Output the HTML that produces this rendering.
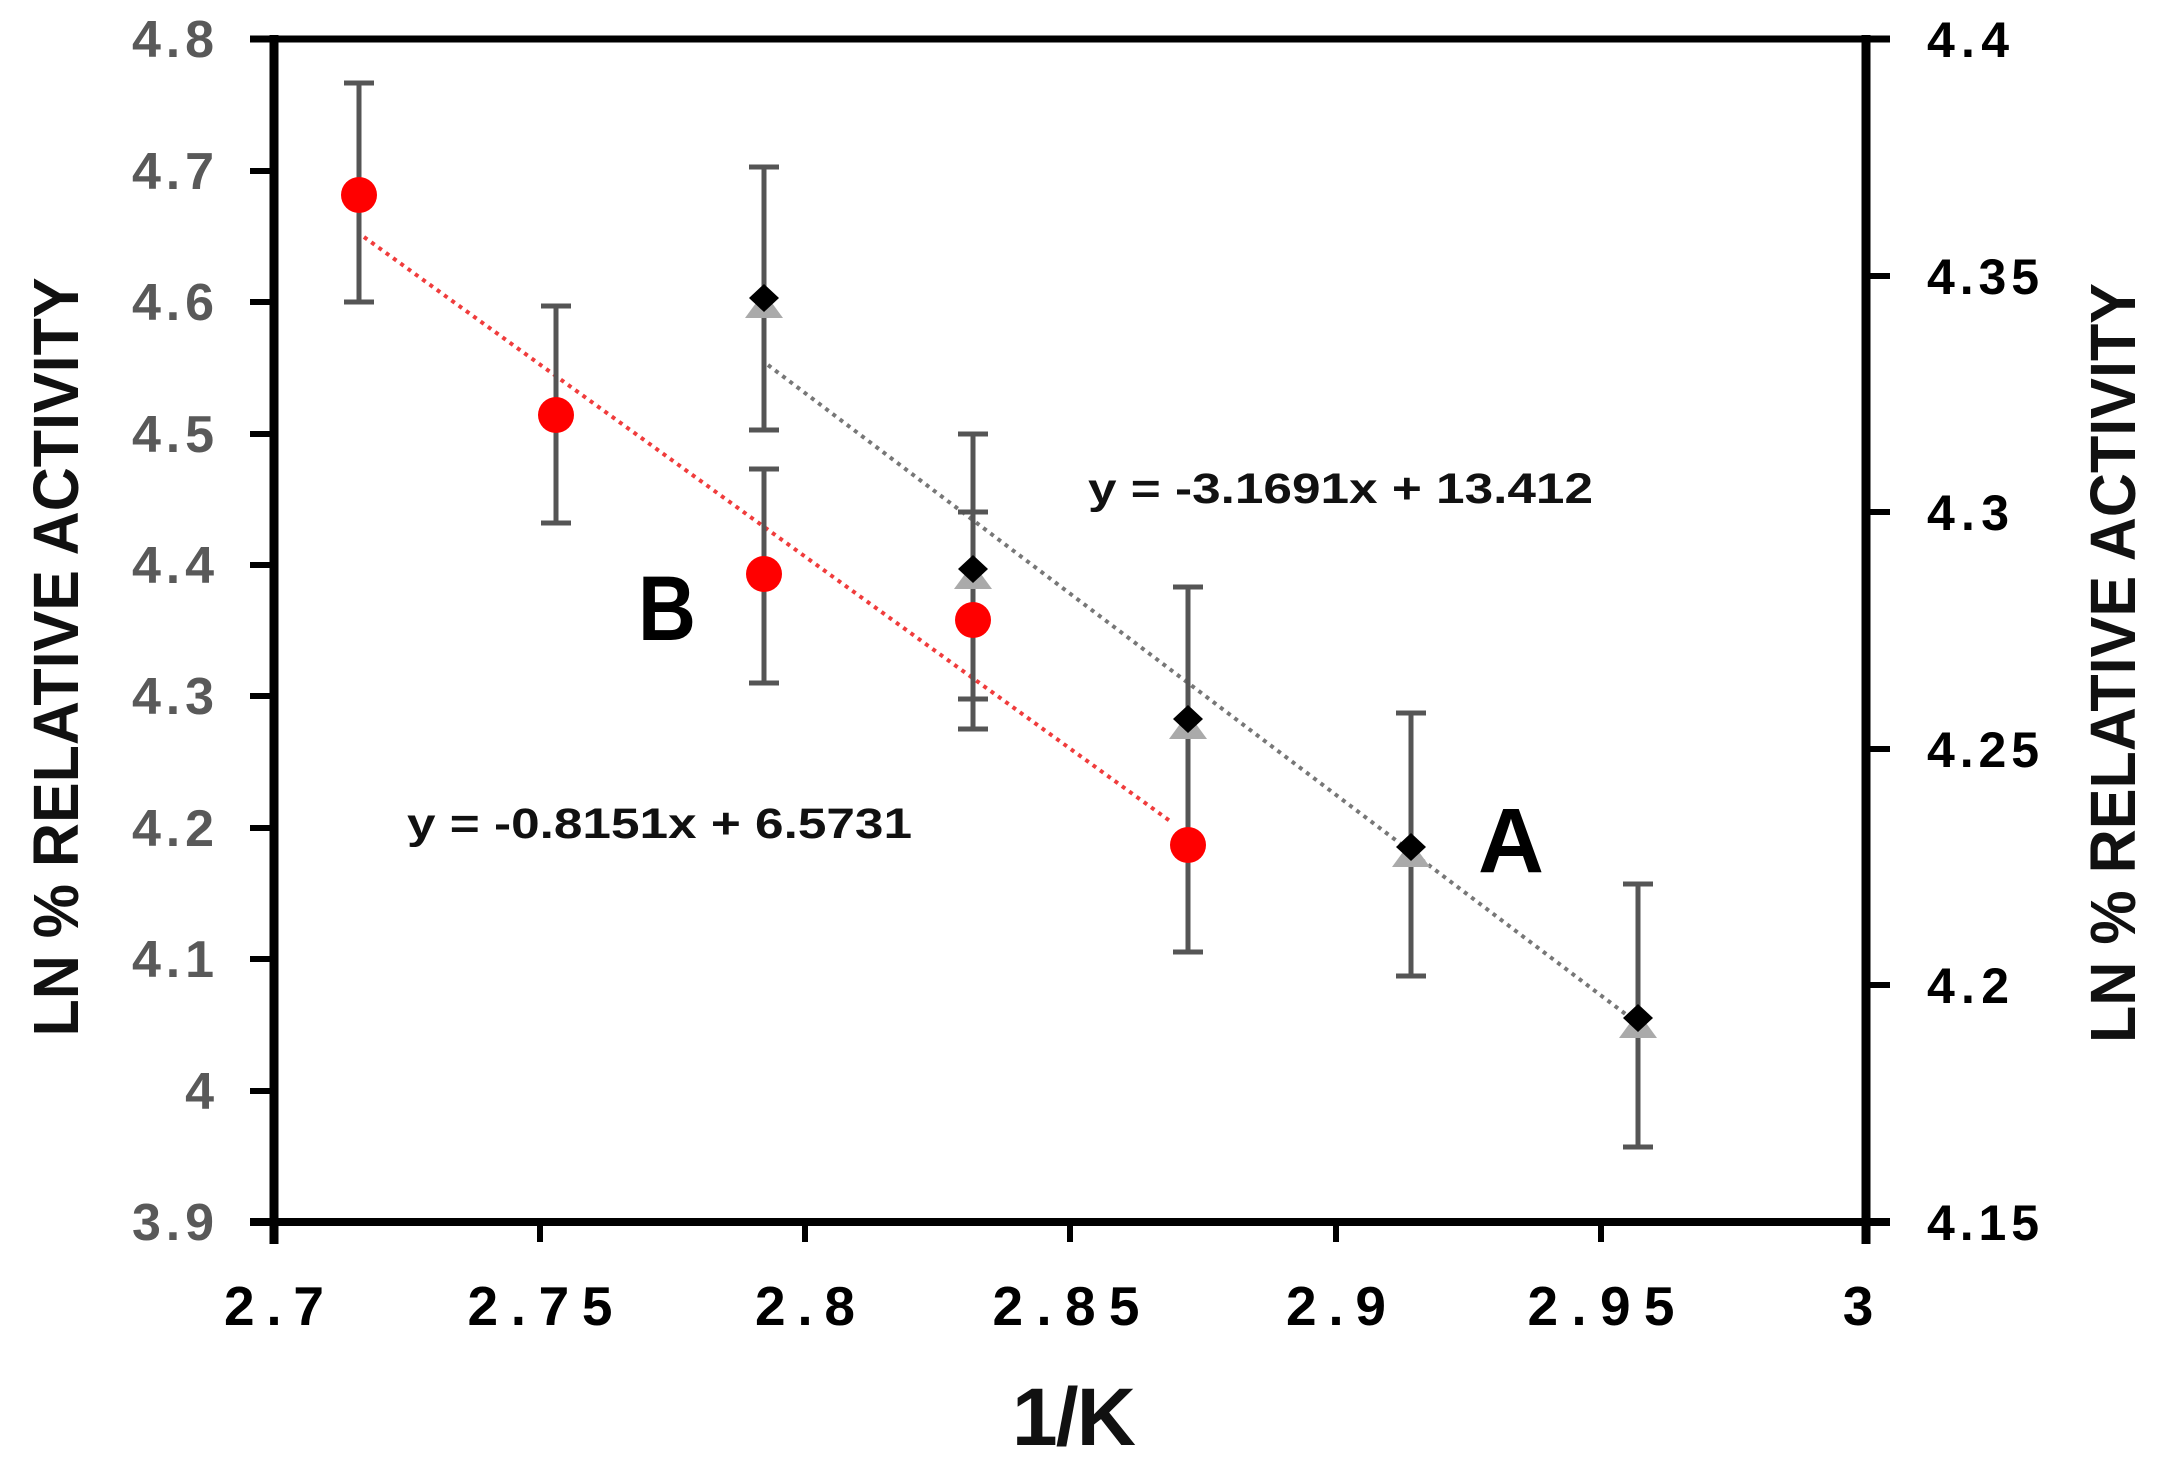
<!DOCTYPE html>
<html><head><meta charset="utf-8"><style>html,body{margin:0;padding:0;background:#fff;}svg{display:block;}</style></head>
<body>
<svg width="2157" height="1480" viewBox="0 0 2157 1480" xmlns="http://www.w3.org/2000/svg" font-family="Liberation Sans, sans-serif" font-weight="bold">
<rect width="2157" height="1480" fill="#fff"/>
<!-- plot frame -->
<line x1="250" y1="39" x2="1890" y2="39" stroke="#000" stroke-width="7"/>
<line x1="250" y1="1222" x2="1890" y2="1222" stroke="#000" stroke-width="8"/>
<line x1="274" y1="35" x2="274" y2="1244" stroke="#000" stroke-width="9"/>
<line x1="1866" y1="35" x2="1866" y2="1244" stroke="#000" stroke-width="9"/>
<!-- left ticks -->
<g stroke="#000" stroke-width="6">
<line x1="250" y1="171" x2="274" y2="171"/><line x1="250" y1="302" x2="274" y2="302"/><line x1="250" y1="434" x2="274" y2="434"/><line x1="250" y1="565" x2="274" y2="565"/><line x1="250" y1="696" x2="274" y2="696"/><line x1="250" y1="828" x2="274" y2="828"/><line x1="250" y1="959" x2="274" y2="959"/><line x1="250" y1="1091" x2="274" y2="1091"/>
<line x1="1866" y1="276" x2="1890" y2="276"/><line x1="1866" y1="512" x2="1890" y2="512"/><line x1="1866" y1="749" x2="1890" y2="749"/><line x1="1866" y1="985" x2="1890" y2="985"/>
<line x1="540" y1="1222" x2="540" y2="1242"/><line x1="805" y1="1222" x2="805" y2="1242"/><line x1="1070" y1="1222" x2="1070" y2="1242"/><line x1="1336" y1="1222" x2="1336" y2="1242"/><line x1="1601" y1="1222" x2="1601" y2="1242"/>
</g>
<!-- left tick labels -->
<g fill="#595959" font-size="52" text-anchor="end">
<text x="214" y="57" textLength="82">4.8</text>
<text x="214" y="189" textLength="82">4.7</text>
<text x="214" y="320" textLength="82">4.6</text>
<text x="214" y="452" textLength="82">4.5</text>
<text x="214" y="583" textLength="82">4.4</text>
<text x="214" y="714" textLength="82">4.3</text>
<text x="214" y="846" textLength="82">4.2</text>
<text x="214" y="977" textLength="82">4.1</text>
<text x="214" y="1109">4</text>
<text x="214" y="1240" textLength="82">3.9</text>
</g>
<!-- right tick labels -->
<g fill="#000" font-size="50">
<text x="1927" y="57" textLength="82">4.4</text>
<text x="1927" y="294" textLength="112">4.35</text>
<text x="1927" y="530" textLength="82">4.3</text>
<text x="1927" y="767" textLength="112">4.25</text>
<text x="1927" y="1003" textLength="82">4.2</text>
<text x="1927" y="1240" textLength="112">4.15</text>
</g>
<!-- x tick labels -->
<g fill="#000" font-size="55" text-anchor="middle">
<text x="274" y="1325" textLength="100">2.7</text>
<text x="540" y="1325" textLength="145">2.75</text>
<text x="805" y="1325" textLength="100">2.8</text>
<text x="1066" y="1325" textLength="147">2.85</text>
<text x="1336" y="1325" textLength="100">2.9</text>
<text x="1601" y="1325" textLength="147">2.95</text>
<text x="1858" y="1325">3</text>
</g>
<text x="1074" y="1445" font-size="82" text-anchor="middle" fill="#111" textLength="124">1/K</text>
<text transform="translate(78,657) rotate(-90)" font-size="64" text-anchor="middle" fill="#111" textLength="759" lengthAdjust="spacingAndGlyphs">LN % RELATIVE ACTIVITY</text>
<text transform="translate(2135,663) rotate(-90)" font-size="64" text-anchor="middle" fill="#111" textLength="760" lengthAdjust="spacingAndGlyphs">LN % RELATIVE ACTIVITY</text>
<!-- trend lines -->
<line x1="364" y1="237" x2="1170" y2="821" stroke="#f03c3c" stroke-width="4" stroke-dasharray="4 5"/>
<line x1="768" y1="365" x2="1640" y2="1025" stroke="#777" stroke-width="4" stroke-dasharray="4 5"/>
<!-- error bars -->
<g stroke="#555" stroke-width="5">
<line x1="359" y1="83" x2="359" y2="302"/><line x1="344" y1="83" x2="374" y2="83"/><line x1="344" y1="302" x2="374" y2="302"/>
<line x1="556" y1="306" x2="556" y2="523"/><line x1="541" y1="306" x2="571" y2="306"/><line x1="541" y1="523" x2="571" y2="523"/>
<line x1="764" y1="167" x2="764" y2="430"/><line x1="749" y1="167" x2="779" y2="167"/><line x1="749" y1="430" x2="779" y2="430"/>
<line x1="764" y1="469" x2="764" y2="683"/><line x1="749" y1="469" x2="779" y2="469"/><line x1="749" y1="683" x2="779" y2="683"/>
<line x1="973" y1="434" x2="973" y2="729"/><line x1="958" y1="434" x2="988" y2="434"/><line x1="958" y1="729" x2="988" y2="729"/>
<line x1="958" y1="512" x2="988" y2="512"/><line x1="958" y1="699" x2="988" y2="699"/>
<line x1="1188" y1="587" x2="1188" y2="952"/><line x1="1173" y1="587" x2="1203" y2="587"/><line x1="1173" y1="952" x2="1203" y2="952"/>
<line x1="1411" y1="713" x2="1411" y2="976"/><line x1="1396" y1="713" x2="1426" y2="713"/><line x1="1396" y1="976" x2="1426" y2="976"/>
<line x1="1638" y1="884" x2="1638" y2="1147"/><line x1="1623" y1="884" x2="1653" y2="884"/><line x1="1623" y1="1147" x2="1653" y2="1147"/>
</g>
<!-- gray triangles -->
<g fill="#aaa">
<polygon points="764,292 783,318 745,318"/>
<polygon points="973,563 992,589 954,589"/>
<polygon points="1188,713 1207,739 1169,739"/>
<polygon points="1411,841 1430,867 1392,867"/>
<polygon points="1638,1012 1657,1038 1619,1038"/>
</g>
<!-- diamonds -->
<g fill="#000">
<polygon points="764,284 779,298 764,312 749,298"/>
<polygon points="973,555 988,569 973,583 958,569"/>
<polygon points="1188,705 1203,719 1188,733 1173,719"/>
<polygon points="1411,833 1426,847 1411,861 1396,847"/>
<polygon points="1638,1004 1653,1018 1638,1032 1623,1018"/>
</g>
<!-- red circles -->
<g fill="#ff0000">
<circle cx="359" cy="195" r="18"/>
<circle cx="556" cy="415" r="18"/>
<circle cx="764" cy="574" r="18"/>
<circle cx="973" cy="620" r="18"/>
<circle cx="1188" cy="845" r="18"/>
</g>
<!-- annotations -->
<text x="1088" y="503" font-size="43" fill="#111" textLength="505" lengthAdjust="spacingAndGlyphs">y = -3.1691x + 13.412</text>
<text x="407" y="838" font-size="43" fill="#111" textLength="505" lengthAdjust="spacingAndGlyphs">y = -0.8151x + 6.5731</text>
<text x="638" y="640" font-size="92" fill="#000" textLength="58" lengthAdjust="spacingAndGlyphs">B</text>
<text x="1478" y="872" font-size="92" fill="#000" textLength="66" lengthAdjust="spacingAndGlyphs">A</text>
</svg>
</body></html>
